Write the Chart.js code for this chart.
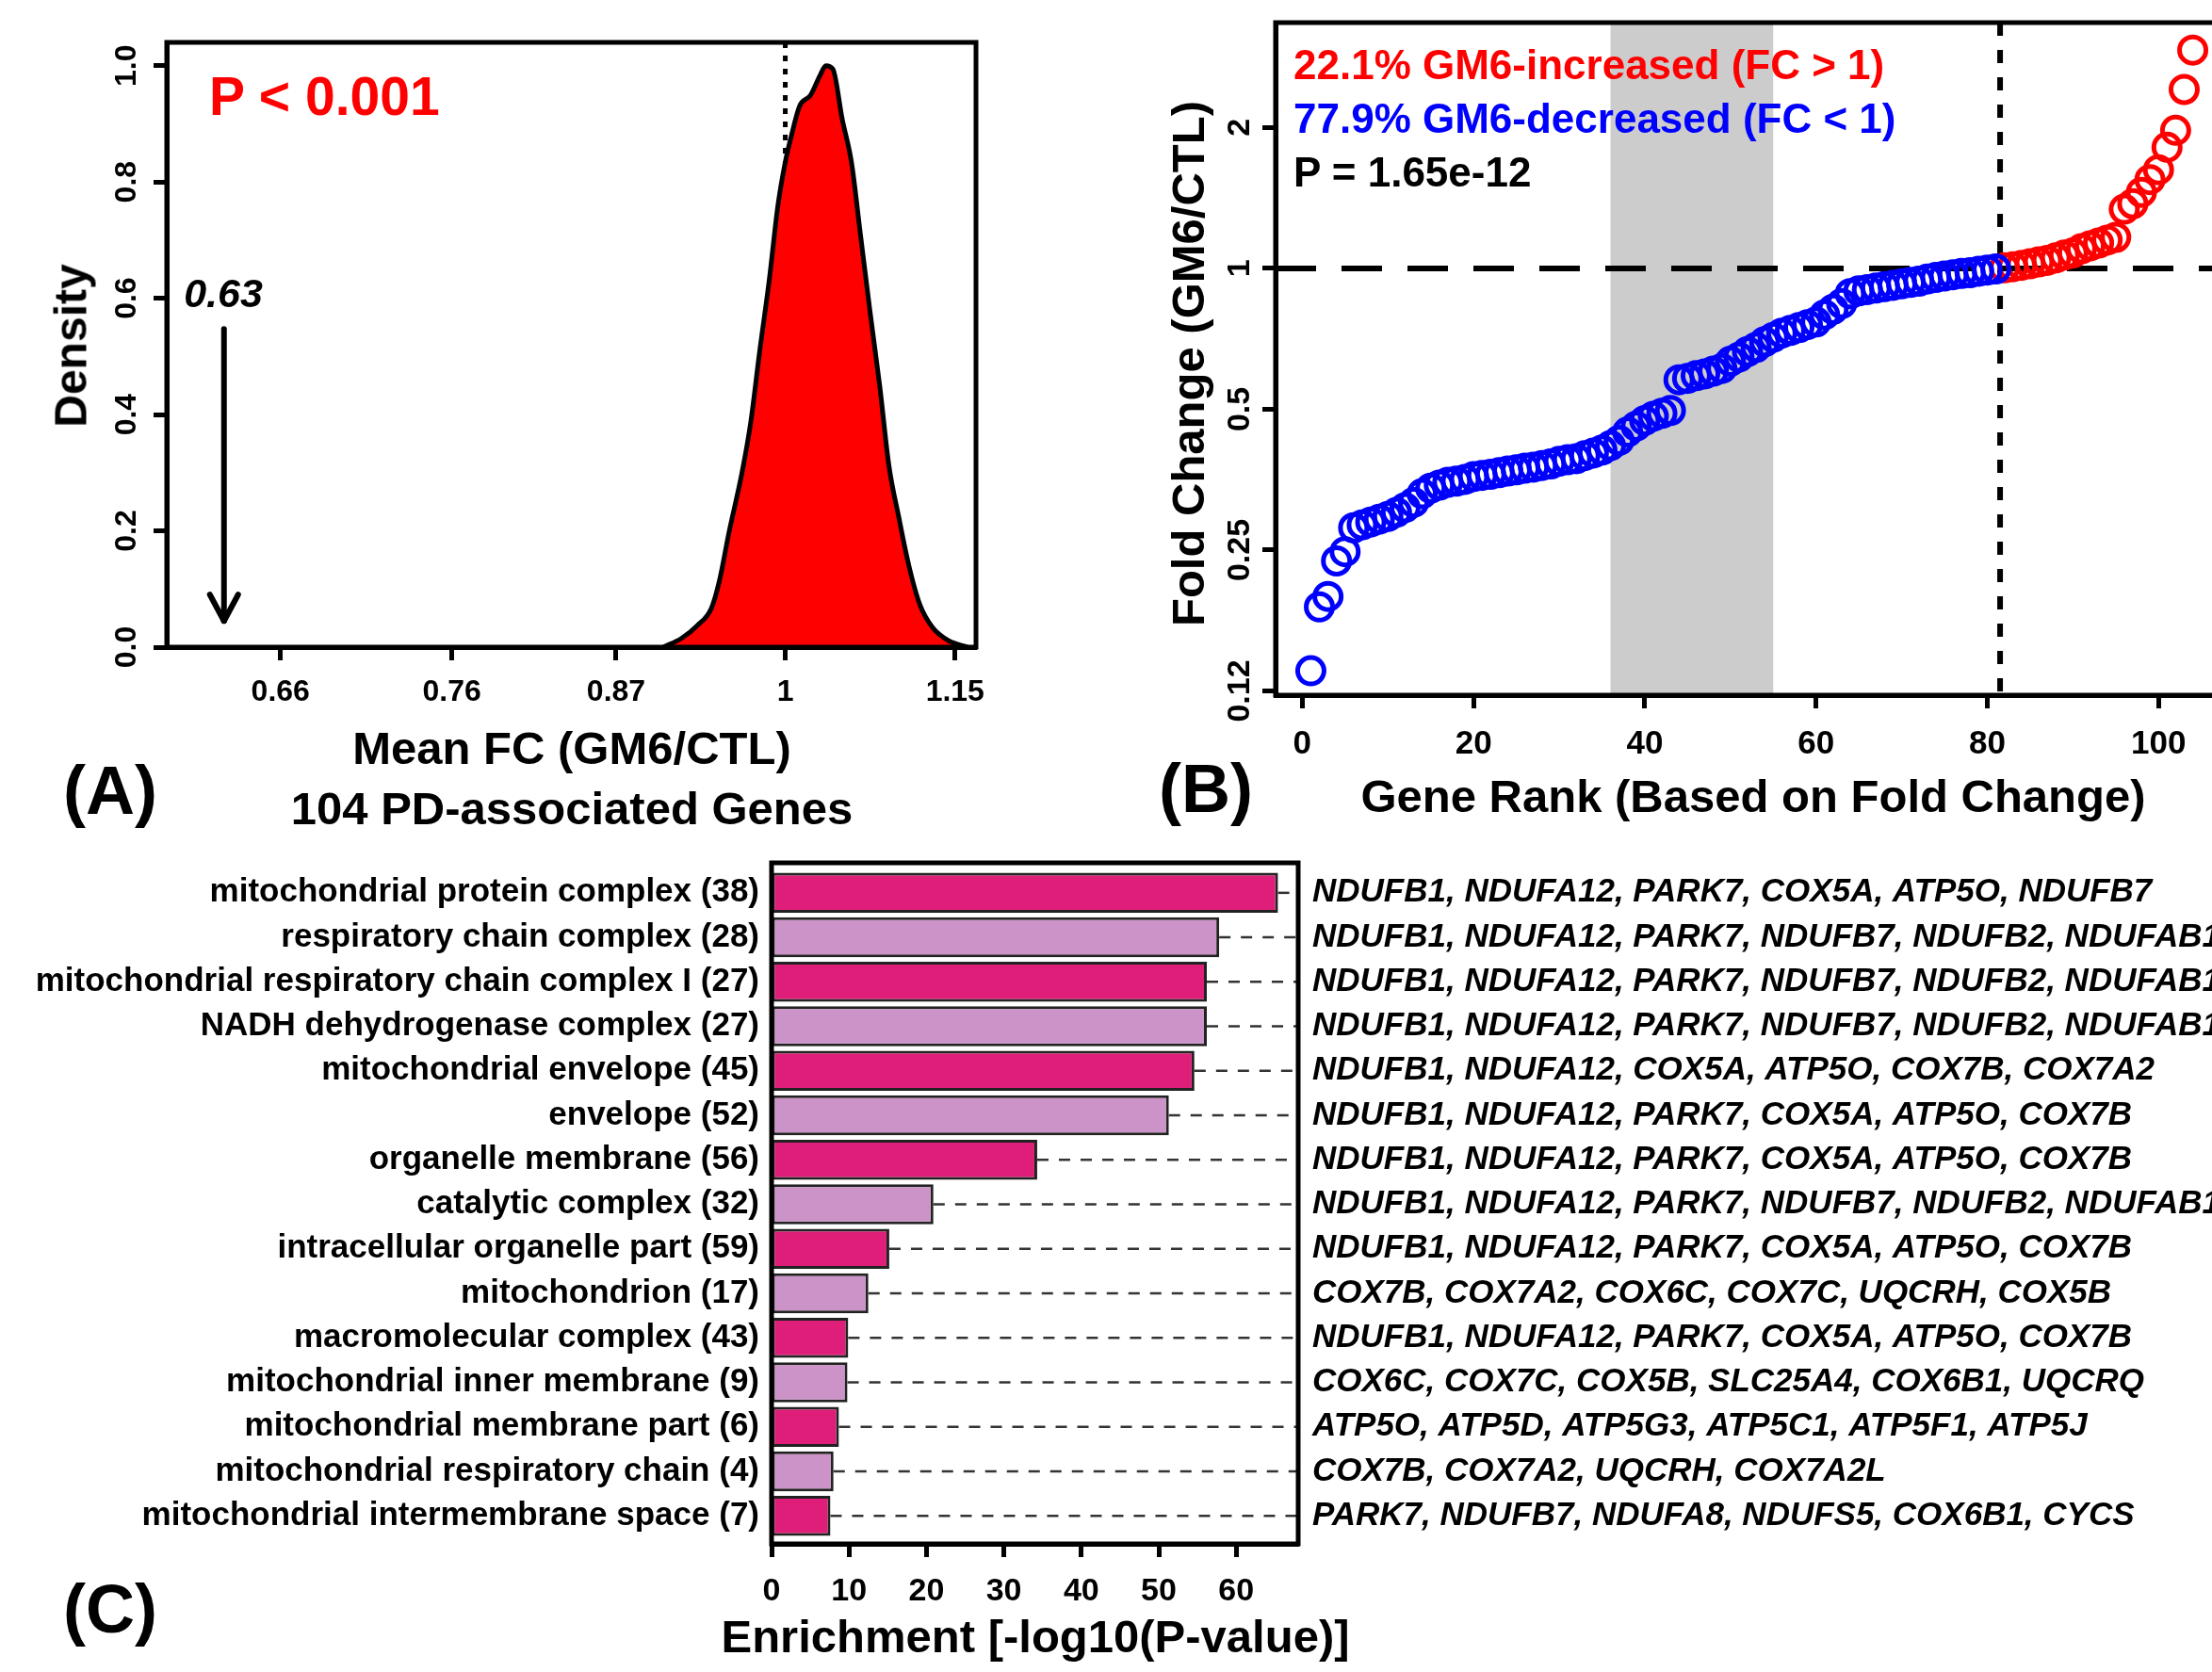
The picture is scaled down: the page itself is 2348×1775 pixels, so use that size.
<!DOCTYPE html>
<html>
<head>
<meta charset="utf-8">
<script src="https://cdn.jsdelivr.net/npm/chart.js@4.4.1/dist/chart.umd.min.js"></script>
<style>
  html, body { margin: 0; padding: 0; background: #fff; }
  body { width: 2348px; height: 1775px; overflow: hidden; position: relative; }
  canvas { position: absolute; }
  .t { position: absolute; white-space: nowrap; font-family: 'Liberation Sans', Arial, sans-serif;
       font-weight: bold; color: #000; transform: translate(0, -50%); }
  .c { transform: translate(-50%, -50%); }
  .r { transform: translate(-50%, -50%) rotate(-90deg); }
</style>
</head>
<body>
<canvas id="chartA" width="1150" height="880" style="left:0;top:0"></canvas>
<canvas id="chartB" width="1200" height="880" style="left:1200px;top:0"></canvas>
<canvas id="chartC" width="2348" height="895" style="left:0;top:880px"></canvas>

<!-- panel A texts -->
<div class="t" style="left:222px;top:102px;font-size:57px;color:#ff0000">P &lt; 0.001</div>
<div class="t c" style="left:237px;top:311px;font-size:43px;font-style:italic">0.63</div>
<div class="t r" style="left:75px;top:367px;font-size:48px">Density</div>
<div class="t c" style="left:607px;top:794px;font-size:49px">Mean FC (GM6/CTL)</div>
<div class="t c" style="left:607px;top:858px;font-size:49px">104 PD-associated Genes</div>
<div class="t c" style="left:117px;top:839px;font-size:72px">(A)</div>

<!-- panel B texts -->
<div class="t" style="left:1373px;top:69px;font-size:44px;color:#ff0000">22.1% GM6-increased (FC &gt; 1)</div>
<div class="t" style="left:1373px;top:126px;font-size:44px;color:#0000ff">77.9% GM6-decreased (FC &lt; 1)</div>
<div class="t" style="left:1373px;top:183px;font-size:44px">P = 1.65e-12</div>
<div class="t r" style="left:1261px;top:386px;font-size:49px">Fold Change (GM6/CTL)</div>
<div class="t c" style="left:1861px;top:845px;font-size:49px">Gene Rank (Based on Fold Change)</div>
<div class="t c" style="left:1280px;top:837px;font-size:72px">(B)</div>

<!-- panel C texts -->
<div class="t c" style="left:1099px;top:1737px;font-size:49px">Enrichment [-log10(P-value)]</div>
<div class="t c" style="left:117px;top:1708px;font-size:72px">(C)</div>

<script>
// ================================================ DATA ================================================ //

// (A) density of mean FC over random gene sets
const densityFC = [0.9045, 0.918, 0.930, 0.941, 0.947, 0.955, 0.965, 0.972, 0.979, 0.987,
                   0.994, 1.000, 1.005, 1.012, 1.021, 1.029, 1.034, 1.040, 1.048, 1.056,
                   1.064, 1.072, 1.081, 1.089, 1.098, 1.107, 1.117, 1.129, 1.144, 1.162];
const densityY  = [0, 0.015, 0.037, 0.067, 0.112, 0.20, 0.30, 0.387, 0.506, 0.633,
                   0.76, 0.834, 0.879, 0.931, 0.949, 0.983, 1.0, 0.994, 0.908, 0.834,
                   0.707, 0.581, 0.447, 0.313, 0.223, 0.141, 0.074, 0.0335, 0.011, 0];
const ticksFC_A    = [0.66, 0.76, 0.87, 1, 1.15];
const ticksDensity = [0, 0.2, 0.4, 0.6, 0.8, 1.0];
const observedFC   = 0.63;

// (B) fold change of the 104 genes, sorted by rank
const geneFC = [0.138, 0.189, 0.199, 0.237, 0.248, 0.279, 0.283, 0.287, 0.291, 0.295,
                0.301, 0.308, 0.316, 0.330, 0.339, 0.344, 0.349, 0.351, 0.354, 0.359,
                0.361, 0.363, 0.366, 0.369, 0.371, 0.374, 0.376, 0.379, 0.382, 0.387,
                0.390, 0.392, 0.398, 0.403, 0.409, 0.418, 0.429, 0.447, 0.460, 0.473,
                0.483, 0.490, 0.497, 0.578, 0.582, 0.590, 0.595, 0.603, 0.611, 0.633,
                0.646, 0.664, 0.678, 0.697, 0.712, 0.727, 0.737, 0.747, 0.758, 0.768,
                0.796, 0.818, 0.841, 0.883, 0.895, 0.901, 0.908, 0.914, 0.920, 0.927,
                0.933, 0.939, 0.949, 0.956, 0.963, 0.969, 0.975, 0.979, 0.986, 0.992,
                0.997, 1.003, 1.008, 1.015, 1.023, 1.032, 1.040, 1.053, 1.068, 1.079,
                1.102, 1.117, 1.133, 1.149, 1.165, 1.338, 1.375, 1.454, 1.548, 1.625,
                1.815, 1.973, 2.412, 2.928];
const ticksRank   = [0, 20, 40, 60, 80, 100];
const ticksFC_B   = [0.125, 0.25, 0.5, 1, 2];
const tickLabFC_B = ['0.12', '0.25', '0.5', '1', '2'];
const bandRanks   = [36, 55];
const splitRank   = 81.5;

// (C) GO enrichment
const goTerms = ['mitochondrial protein complex (38)', 'respiratory chain complex (28)',
  'mitochondrial respiratory chain complex I (27)', 'NADH dehydrogenase complex (27)',
  'mitochondrial envelope (45)', 'envelope (52)', 'organelle membrane (56)',
  'catalytic complex (32)', 'intracellular organelle part (59)', 'mitochondrion (17)',
  'macromolecular complex (43)', 'mitochondrial inner membrane (9)',
  'mitochondrial membrane part (6)', 'mitochondrial respiratory chain (4)',
  'mitochondrial intermembrane space (7)'];
const enrichment = [65.4, 57.8, 56.2, 56.2, 54.6, 51.3, 34.3, 20.9, 15.2, 12.5, 9.9, 9.8, 8.7, 8.0, 7.6];
const goGenes = ['NDUFB1, NDUFA12, PARK7, COX5A, ATP5O, NDUFB7',
  'NDUFB1, NDUFA12, PARK7, NDUFB7, NDUFB2, NDUFAB1',
  'NDUFB1, NDUFA12, PARK7, NDUFB7, NDUFB2, NDUFAB1',
  'NDUFB1, NDUFA12, PARK7, NDUFB7, NDUFB2, NDUFAB1',
  'NDUFB1, NDUFA12, COX5A, ATP5O, COX7B, COX7A2',
  'NDUFB1, NDUFA12, PARK7, COX5A, ATP5O, COX7B',
  'NDUFB1, NDUFA12, PARK7, COX5A, ATP5O, COX7B',
  'NDUFB1, NDUFA12, PARK7, NDUFB7, NDUFB2, NDUFAB1',
  'NDUFB1, NDUFA12, PARK7, COX5A, ATP5O, COX7B',
  'COX7B, COX7A2, COX6C, COX7C, UQCRH, COX5B',
  'NDUFB1, NDUFA12, PARK7, COX5A, ATP5O, COX7B',
  'COX6C, COX7C, COX5B, SLC25A4, COX6B1, UQCRQ',
  'ATP5O, ATP5D, ATP5G3, ATP5C1, ATP5F1, ATP5J',
  'COX7B, COX7A2, UQCRH, COX7A2L',
  'PARK7, NDUFB7, NDUFA8, NDUFS5, COX6B1, CYCS'];
const ticksEnrich = [0, 10, 20, 30, 40, 50, 60];

// ================================================ COMMON ================================================ //

Chart.defaults.font.family = "'Liberation Sans', Arial, sans-serif";
Chart.defaults.font.weight = 'bold';
Chart.defaults.color = '#000';

const base = {
  responsive: false, animation: false, devicePixelRatio: 1,
  plugins: { legend: { display: false }, tooltip: { enabled: false } }
};
const tickGrid = { display: true, drawOnChartArea: false, drawTicks: true, tickLength: 14, tickWidth: 5, tickColor: '#000' };
const axisBorder = { display: true, color: '#000', width: 5 };

// box around the plotting region
const boxPlugin = {
  id: 'box',
  afterDraw(chart) {
    const {ctx, chartArea: a} = chart;
    ctx.save();
    ctx.strokeStyle = '#000';
    ctx.lineWidth = 5;
    ctx.strokeRect(a.left, a.top, a.right - a.left, a.bottom - a.top);
    ctx.restore();
  }
};

function line(ctx, x0, y0, x1, y1, w, dash, color) {
  ctx.save();
  ctx.strokeStyle = color || '#000';
  ctx.lineWidth = w;
  ctx.lineCap = dash ? 'butt' : 'round';
  ctx.setLineDash(dash || []);
  ctx.beginPath(); ctx.moveTo(x0, y0); ctx.lineTo(x1, y1); ctx.stroke();
  ctx.restore();
}

// ================================================ PANEL A ================================================ //

const marksA = {
  id: 'marksA',
  beforeDatasetsDraw(chart) {
    const {ctx, chartArea: a, scales: {x}} = chart;
    const px = x.getPixelForValue(1);
    line(ctx, px, a.top, px, a.bottom, 5, [6, 8]);
  },
  afterDatasetsDraw(chart) {
    const {ctx, scales: {x, y}} = chart;
    const px = x.getPixelForValue(observedFC), y0 = y.getPixelForValue(0.547), y1 = y.getPixelForValue(0.045);
    line(ctx, px, y0, px, y1, 6);
    line(ctx, px, y1, px - 15, y1 - 28, 6);
    line(ctx, px, y1, px + 15, y1 - 28, 6);
  }
};

new Chart(document.getElementById('chartA'), {
  type: 'line',
  data: { datasets: [{
    data: densityFC.map((v, i) => ({x: v, y: densityY[i]})),
    fill: 'origin', backgroundColor: '#ff0000', borderColor: '#000', borderWidth: 5,
    pointRadius: 0, cubicInterpolationMode: 'monotone'
  }]},
  options: Object.assign({}, base, {
    layout: { padding: { left: 0, top: 45, right: 114, bottom: 93 } },
    scales: {
      x: {
        type: 'logarithmic', min: 0.601, max: 1.170,
        afterBuildTicks: s => { s.ticks = ticksFC_A.map(v => ({value: v})); },
        afterFit: s => { s.height = 100; },
        ticks: { autoSkip: false, maxRotation: 0, padding: 15, font: {size: 32},
                 callback: (v, i) => String(ticksFC_A[i]) },
        grid: tickGrid, border: axisBorder
      },
      y: {
        min: 0, max: 1.04,
        afterBuildTicks: s => { s.ticks = ticksDensity.map(v => ({value: v})); },
        afterFit: s => { s.width = 177; },
        ticks: { minRotation: 90, maxRotation: 90, crossAlign: 'center', padding: 6, font: {size: 32},
                 callback: v => v.toFixed(1) },
        grid: tickGrid, border: axisBorder
      }
    }
  }),
  plugins: [marksA, boxPlugin]
});

// ================================================ PANEL B ================================================ //

const marksB = {
  id: 'marksB',
  beforeDatasetsDraw(chart) {
    const {ctx, chartArea: a, scales: {x, y}} = chart;
    const b0 = x.getPixelForValue(bandRanks[0]), b1 = x.getPixelForValue(bandRanks[1]);
    ctx.save();
    ctx.fillStyle = '#cccccc';
    ctx.fillRect(b0, a.top, b1 - b0, a.bottom - a.top);
    ctx.restore();
    const py = y.getPixelForValue(1);
    line(ctx, a.left, py, a.right, py, 6, [43, 27]);
    const px = x.getPixelForValue(splitRank);
    line(ctx, px, a.top, px, a.bottom, 6, [14, 15]);
  }
};

const ptStyle = { pointRadius: 14, pointBorderWidth: 5, pointBackgroundColor: 'rgba(0,0,0,0)', showLine: false };

new Chart(document.getElementById('chartB'), {
  type: 'scatter',
  data: { datasets: [
    Object.assign({ data: geneFC.map((v, i) => ({x: i + 1, y: v})).filter(p => p.y < 1),
                    pointBorderColor: '#0000ff', borderColor: '#0000ff' }, ptStyle),
    Object.assign({ data: geneFC.map((v, i) => ({x: i + 1, y: v})).filter(p => p.y >= 1),
                    pointBorderColor: '#ff0000', borderColor: '#ff0000' }, ptStyle)
  ]},
  options: Object.assign({}, base, {
    layout: { padding: { left: 0, top: 24, right: 35, bottom: 72 } },
    scales: {
      x: {
        type: 'linear', min: -3.12, max: 108.12,
        afterBuildTicks: s => { s.ticks = ticksRank.map(v => ({value: v})); },
        afterFit: s => { s.height = 70; },
        ticks: { autoSkip: false, maxRotation: 0, padding: 17, font: {size: 35} },
        grid: tickGrid, border: axisBorder
      },
      y: {
        type: 'logarithmic', min: 0.1224, max: 3.352,
        afterBuildTicks: s => { s.ticks = ticksFC_B.map(v => ({value: v})); },
        afterFit: s => { s.width = 154; },
        ticks: { minRotation: 90, maxRotation: 90, crossAlign: 'center', padding: -10, font: {size: 34},
                 callback: (v, i) => tickLabFC_B[i] },
        grid: tickGrid, border: axisBorder
      }
    }
  }),
  plugins: [marksB, boxPlugin]
});

// ================================================ PANEL C ================================================ //

const guidesC = {
  id: 'guidesC',
  beforeDatasetsDraw(chart) {
    const {ctx, chartArea: a, scales: {x, y}} = chart;
    enrichment.forEach((v, i) => {
      const py = y.getPixelForValue(i + 1);
      line(ctx, x.getPixelForValue(v), py, a.right, py, 2.5, [12, 11], '#333');
    });
  }
};

const rowAxis = { min: 0.326, max: 15.63, reverse: true, offset: false,
  afterBuildTicks: s => { s.ticks = goTerms.map((t, i) => ({value: i + 1})); },
  grid: { display: false, drawTicks: false, offset: false }, border: { display: false } };

new Chart(document.getElementById('chartC'), {
  type: 'bar',
  data: { datasets: [{
    data: enrichment.map((v, i) => ({x: v, y: i + 1})),
    backgroundColor: enrichment.map((v, i) => i % 2 ? '#cc93c8' : '#de1e78'),
    borderColor: '#222', borderWidth: 3, borderSkipped: false,
    barPercentage: 0.9, categoryPercentage: 1
  }]},
  options: Object.assign({}, base, {
    indexAxis: 'y',
    layout: { padding: { left: 0, top: 32, right: 0, bottom: 76 } },
    scales: {
      x: {
        type: 'linear', min: 0, max: 68,
        afterBuildTicks: s => { s.ticks = ticksEnrich.map(v => ({value: v})); },
        afterFit: s => { s.height = 60; },
        ticks: { autoSkip: false, maxRotation: 0, padding: 16, font: {size: 34} },
        grid: tickGrid, border: axisBorder
      },
      y: Object.assign({ type: 'linear', position: 'left',
        afterFit: s => { s.width = 819; },
        ticks: { padding: 13, font: {size: 35}, callback: v => goTerms[v - 1] } }, rowAxis),
      y2: Object.assign({ type: 'linear', position: 'right',
        afterFit: s => { s.width = 970; },
        ticks: { padding: 15, font: {size: 35, style: 'italic'}, callback: v => goGenes[v - 1] } }, rowAxis)
    }
  }),
  plugins: [guidesC, boxPlugin]
});
</script>
</body>
</html>
